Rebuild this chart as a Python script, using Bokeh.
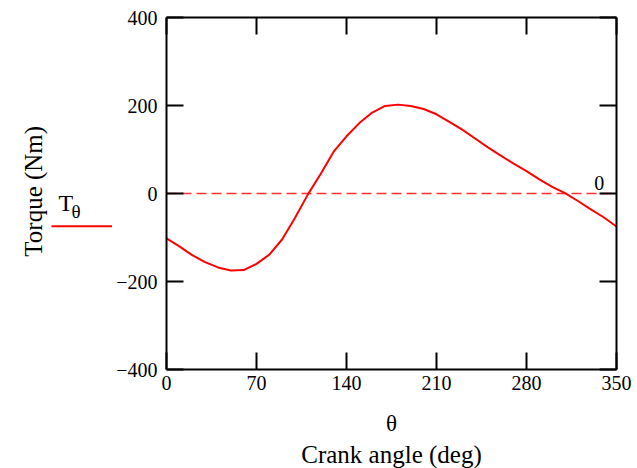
from bokeh.plotting import figure
from bokeh.models import Range1d, LinearAxis, FixedTicker, Label, Title
from bokeh.layouts import row
from bokeh.core.properties import value
from bokeh.embed import file_html
from bokeh.resources import INLINE
import math

# Data
theta = [0, 10, 20, 30, 40, 50, 60, 70, 80, 90, 100, 110, 120, 130, 140, 150, 160, 170,
         180, 190, 200, 210, 220, 230, 240, 250, 260, 270, 280, 290, 300, 310, 320, 330, 340, 350]
torque = [-102, -120, -140, -156, -168, -175, -174, -160, -139, -104, -55, -2, 45, 95, 130, 160, 184, 199,
          202, 199, 192, 180, 163, 145, 125, 105, 86, 68, 51, 32, 15, 1, -17, -36, -54, -75]
x_ticks = [0, 70, 140, 210, 280, 350]
y_ticks = [-400, -200, 0, 200, 400]
y_tick_labels = {-400: "\u2212400", -200: "\u2212200", 0: "0", 200: "200", 400: "400"}
marker_value = 0

FONT = "Liberation Serif"
W, H = 637, 468
LW = 112

# ---- main plot ----
p = figure(width=W - LW, height=H, output_backend="svg", toolbar_location=None,
           x_range=Range1d(0, 350), y_range=Range1d(-400, 400),
           x_axis_location=None, y_axis_location=None,
           min_border_left=54, min_border_right=21, min_border_top=17, min_border_bottom=99)
p.outline_line_color = None
p.xgrid.visible = False
p.ygrid.visible = False
p.background_fill_color = "white"
p.border_fill_color = "white"


def mk_axis(ticks, show_labels, overrides=None, standoff=8):
    ax = LinearAxis(ticker=FixedTicker(ticks=ticks), major_tick_in=17, major_tick_out=0,
                    minor_tick_line_color=None, axis_line_width=2, axis_line_color="black",
                    major_tick_line_width=2, major_tick_line_color="black",
                    major_label_text_font=FONT, major_label_text_color="black")
    if show_labels:
        ax.major_label_text_font_size = "20px"
        ax.major_label_standoff = standoff
        if overrides:
            ax.major_label_overrides = overrides
    else:
        ax.major_label_text_font_size = "0px"
        ax.major_label_standoff = 0
    return ax


p.add_layout(mk_axis(y_ticks, True, y_tick_labels, 9), "left")
p.add_layout(mk_axis(y_ticks, False), "right")
xb = mk_axis(x_ticks, True, None, 6)
xb.axis_label = "\u03b8"
xb.axis_label_text_font = FONT
xb.axis_label_text_font_size = "23px"
xb.axis_label_text_font_style = "normal"
xb.axis_label_text_color = "black"
xb.axis_label_text_line_height = 0.75
xb.axis_label_standoff = 18
p.add_layout(xb, "below")
p.add_layout(mk_axis(x_ticks, False), "above")

p.add_layout(Title(text="Crank angle (deg)", align="center", text_font=FONT,
                   text_font_size="25px", text_font_style="normal", text_color="black",
                   standoff=0), "below")

# zero marker line spanning the data's angle range
p.line(x=[theta[0], theta[-1]], y=[marker_value, marker_value], line_color="#ff3030",
       line_width=1.6, line_dash="10 5")
p.line(theta, torque, line_color="#ff0000", line_width=2)

# Marker value label
p.add_layout(Label(x=332.6, y=24, text=str(marker_value), text_font=FONT, text_font_size="20px",
                   text_baseline="alphabetic", text_color="black"))

# ---- left panel: y title and legend (frame aligned with main frame) ----
L = figure(width=LW, height=H, output_backend="svg", toolbar_location=None,
           x_range=Range1d(0, LW), y_range=Range1d(-400, 400),
           x_axis_location=None, y_axis_location=None,
           min_border_left=0, min_border_right=0, min_border_top=17, min_border_bottom=99)
L.outline_line_color = None
L.xgrid.visible = False
L.ygrid.visible = False
L.border_fill_color = "white"

L.text(x=[33], y=[5], text=["Torque (Nm)"], angle=math.pi / 2,
       text_font=value(FONT), text_font_size="25px", text_align="center",
       text_baseline="alphabetic", text_color="black")
L.text(x=[58], y=[-22.3], text=["T"], text_font=value(FONT), text_font_size="24px",
       text_baseline="alphabetic", text_color="black")
L.text(x=[71], y=[-40.4], text=["\u03b8"], text_font=value(FONT), text_font_size="19px",
       text_baseline="alphabetic", text_color="black")
L.segment(x0=[51], y0=[-74.3], x1=[LW], y1=[-74.3], line_color="#ff0000", line_width=2)

layout = row(L, p, spacing=0)
open("out.html", "w").write(file_html(layout, INLINE))
